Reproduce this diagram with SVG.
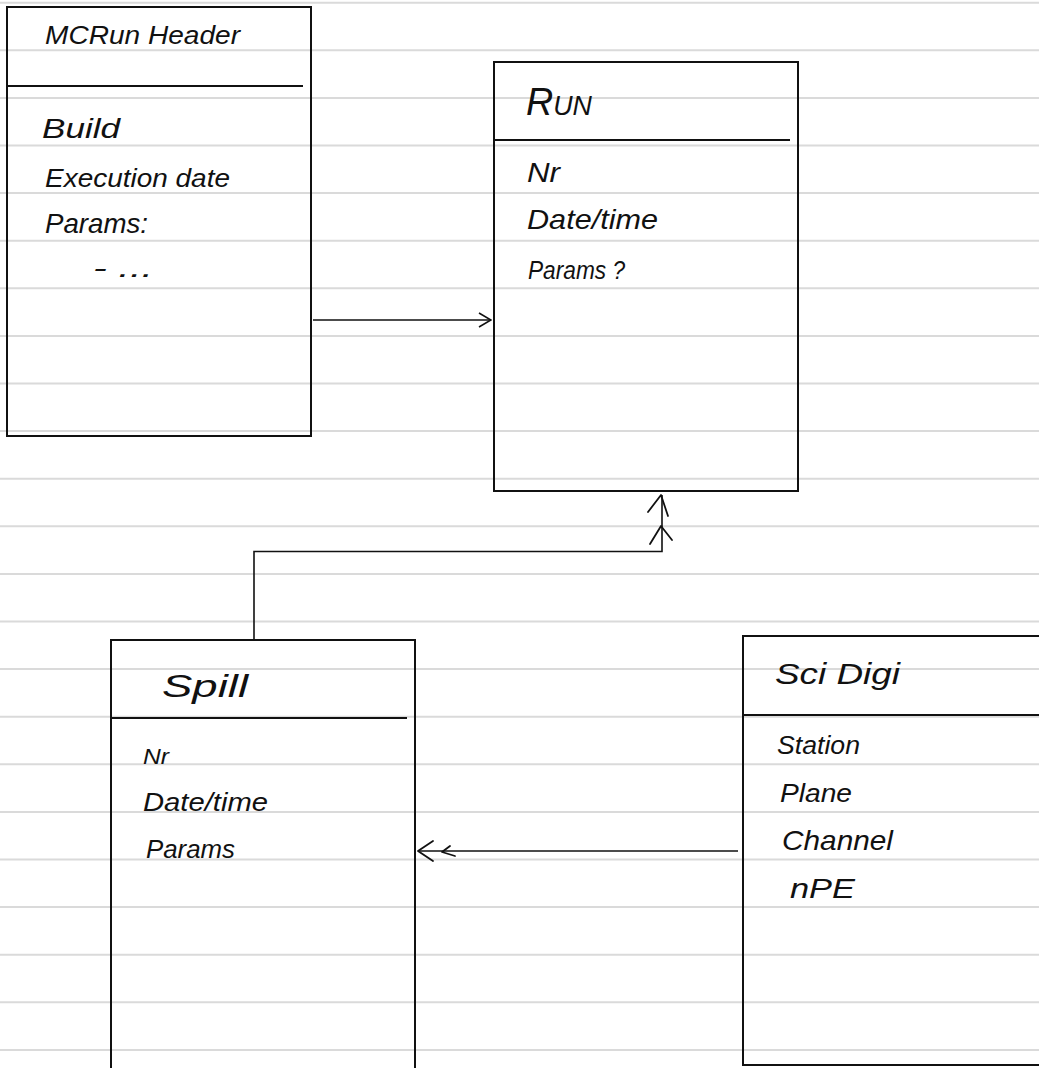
<svg xmlns="http://www.w3.org/2000/svg" width="1039" height="1068" viewBox="0 0 1039 1068">
<style>
.rule{stroke:#dadada;stroke-width:2}
.box{fill:none;stroke:#111;stroke-width:2}
.div{stroke:#111;stroke-width:2}
.edge{fill:none;stroke:#111;stroke-width:1.6}
.head{fill:none;stroke:#111;stroke-width:1.8;stroke-linecap:round;stroke-linejoin:round}
text{font-family:"Liberation Sans","DejaVu Sans",sans-serif;font-style:italic;fill:#111;font-size:26px}
.title{font-size:26px}
</style>
<defs>
<marker id="open" viewBox="0 0 14 16" refX="13" refY="8" markerWidth="14" markerHeight="16" markerUnits="userSpaceOnUse" orient="auto">
<path d="M1,1 L13,8 L1,15" fill="none" stroke="#111" stroke-width="1.6"/>
</marker>
</defs>
<rect width="1039" height="1068" fill="#fff"/>
<g id="paper-rules">
<line class="rule" x1="0" x2="1039" y1="2.7" y2="2.7"/>
<line class="rule" x1="0" x2="1039" y1="50.3" y2="50.3"/>
<line class="rule" x1="0" x2="1039" y1="97.9" y2="97.9"/>
<line class="rule" x1="0" x2="1039" y1="145.5" y2="145.5"/>
<line class="rule" x1="0" x2="1039" y1="193.1" y2="193.1"/>
<line class="rule" x1="0" x2="1039" y1="240.7" y2="240.7"/>
<line class="rule" x1="0" x2="1039" y1="288.3" y2="288.3"/>
<line class="rule" x1="0" x2="1039" y1="335.9" y2="335.9"/>
<line class="rule" x1="0" x2="1039" y1="383.5" y2="383.5"/>
<line class="rule" x1="0" x2="1039" y1="431.1" y2="431.1"/>
<line class="rule" x1="0" x2="1039" y1="478.7" y2="478.7"/>
<line class="rule" x1="0" x2="1039" y1="526.3" y2="526.3"/>
<line class="rule" x1="0" x2="1039" y1="573.9" y2="573.9"/>
<line class="rule" x1="0" x2="1039" y1="621.5" y2="621.5"/>
<line class="rule" x1="0" x2="1039" y1="669.1" y2="669.1"/>
<line class="rule" x1="0" x2="1039" y1="716.7" y2="716.7"/>
<line class="rule" x1="0" x2="1039" y1="764.3" y2="764.3"/>
<line class="rule" x1="0" x2="1039" y1="811.9" y2="811.9"/>
<line class="rule" x1="0" x2="1039" y1="859.5" y2="859.5"/>
<line class="rule" x1="0" x2="1039" y1="907.1" y2="907.1"/>
<line class="rule" x1="0" x2="1039" y1="954.7" y2="954.7"/>
<line class="rule" x1="0" x2="1039" y1="1002.3" y2="1002.3"/>
<line class="rule" x1="0" x2="1039" y1="1049.9" y2="1049.9"/>
</g>
<g id="mcrun-header">
<rect class="box" x="7" y="7" width="304" height="429"/>
<line class="div" x1="7" y1="86" x2="303" y2="86"/>
<text class="title" x="45" y="44" textLength="195" lengthAdjust="spacingAndGlyphs">MCRun Header</text>
<text x="42" y="138" style="font-size:28px" textLength="78" lengthAdjust="spacingAndGlyphs">Build</text>
<text x="45" y="187" textLength="185" lengthAdjust="spacingAndGlyphs">Execution date</text>
<text x="45" y="233" style="font-size:28px" textLength="103" lengthAdjust="spacingAndGlyphs">Params:</text>
<text x="93" y="277" textLength="60" lengthAdjust="spacingAndGlyphs">- ...</text>
</g>
<g id="run">
<rect class="box" x="494" y="62" width="304" height="429"/>
<line class="div" x1="494" y1="140" x2="790" y2="140"/>
<text class="title" x="526" y="115" style="font-size:38px;font-variant:small-caps" textLength="66" lengthAdjust="spacingAndGlyphs">Run</text>
<text x="527" y="182" style="font-size:28px" textLength="33" lengthAdjust="spacingAndGlyphs">Nr</text>
<text x="527" y="229" style="font-size:28px" textLength="131" lengthAdjust="spacingAndGlyphs">Date/time</text>
<text x="528" y="279" style="font-size:25px" textLength="97" lengthAdjust="spacingAndGlyphs">Params ?</text>
</g>
<g id="spill">
<path class="box" d="M111,1068 V640 H415 V1068"/>
<line class="div" x1="111" y1="718" x2="407" y2="718"/>
<text class="title" x="162" y="697" style="font-size:32px" textLength="86" lengthAdjust="spacingAndGlyphs">Spill</text>
<text x="143" y="764" style="font-size:22px" textLength="26" lengthAdjust="spacingAndGlyphs">Nr</text>
<text x="143" y="811" textLength="125" lengthAdjust="spacingAndGlyphs">Date/time</text>
<text x="146" y="858" textLength="89" lengthAdjust="spacingAndGlyphs">Params</text>
</g>
<g id="sci-digi">
<path class="box" d="M1040,636 H743 V1065 H1040"/>
<line class="div" x1="743" y1="715" x2="1039" y2="715"/>
<text class="title" x="775" y="684" style="font-size:30px" textLength="125" lengthAdjust="spacingAndGlyphs">Sci Digi</text>
<text x="777" y="754" textLength="83" lengthAdjust="spacingAndGlyphs">Station</text>
<text x="780" y="802" textLength="72" lengthAdjust="spacingAndGlyphs">Plane</text>
<text x="782" y="850" style="font-size:28px" textLength="111" lengthAdjust="spacingAndGlyphs">Channel</text>
<text x="790" y="898" style="font-size:28px" textLength="65" lengthAdjust="spacingAndGlyphs">nPE</text>
</g>
<g id="connectors">
<line class="edge" x1="313" y1="320" x2="491" y2="320" marker-end="url(#open)"/>
<polyline class="edge" points="254,640 254,551.5 662,551.5 662,495"/>
<polyline class="head" points="648,512 661,495 668,516"/>
<polyline class="head" points="650,544 661,526 672,540"/>
<line class="edge" x1="738" y1="851" x2="418" y2="851"/>
<polyline class="head" points="433,841 418,851 433,861"/>
<polyline class="head" points="450,846 442,852 455,856"/>
</g>
</svg>
